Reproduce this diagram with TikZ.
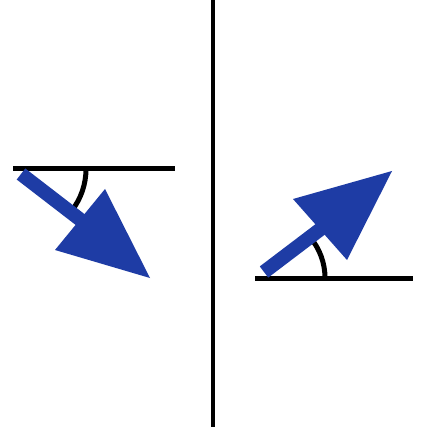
\documentclass[tikz,border=0pt]{standalone}
\definecolor{arrowblue}{RGB}{30,60,165}
\begin{document}
\begin{tikzpicture}[x=1pt,y=-1pt,
  blackline/.style={line width=5pt,black},
  angarc/.style={line width=5pt,black},
  shaft/.style={line width=14pt,arrowblue},
  head/.style={fill=arrowblue}]
\useasboundingbox[fill=white] (0,0) rectangle (421,427);
% divider
\draw[line width=4pt] (213,0) -- (213,427);
% left panel
\draw[blackline] (13,169) -- (175,169);
\draw[angarc] (86,169) arc[start angle=0,end angle=38,radius=68];
\draw[shaft] (21,174) -- (82,221);
\fill[head] (105,189) -- (55,250) -- (150,278) -- cycle;
% right panel
\draw[blackline] (255,278) -- (413,278);
\draw[angarc] (325,278) arc[start angle=0,end angle=-40,radius=63];
\draw[shaft] (264,272) -- (322,228);
\fill[head] (293,199) -- (347,260) -- (392,171) -- cycle;
\end{tikzpicture}
\end{document}
